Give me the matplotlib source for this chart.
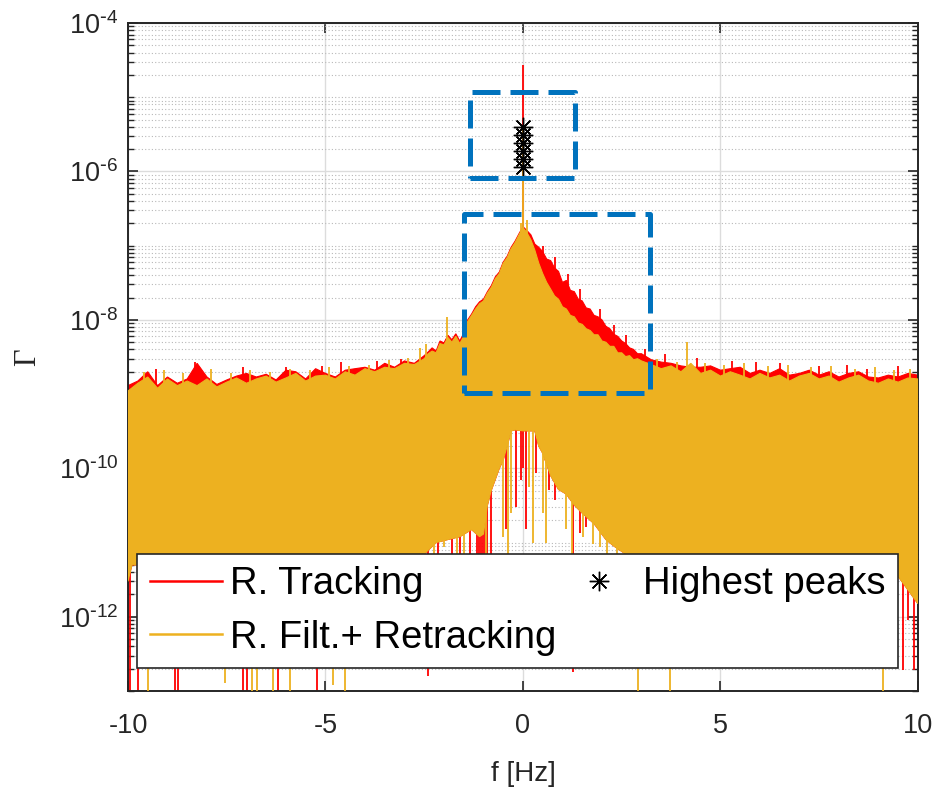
import numpy as np
import matplotlib
matplotlib.use("Agg")
import matplotlib.pyplot as plt
from matplotlib.lines import Line2D
from matplotlib.patches import Rectangle
from matplotlib.ticker import FixedLocator, LogLocator, NullFormatter, NullLocator, FuncFormatter

plt.rcParams['font.family'] = ['Liberation Sans', 'DejaVu Sans']
plt.rcParams['axes.unicode_minus'] = False

# spectrum upper envelope
f_left = [-10.0, -9.75, -9.5, -9.25, -9.0, -8.75, -8.5, -8.25, -8.0, -7.75,
          -7.5, -7.25, -7.0, -6.75, -6.5, -6.25, -6.0, -5.75, -5.5, -5.25,
          -5.0, -4.75, -4.5, -4.25, -4.0, -3.75, -3.5, -3.25, -3.0, -2.75]
f_mid = [-2.5, -2.4, -2.3, -2.2, -2.1, -2.0, -1.9, -1.8, -1.7, -1.6,
         -1.5, -1.4, -1.3, -1.2, -1.1, -1.0, -0.9, -0.8, -0.7, -0.6,
         -0.5, -0.4, -0.3, -0.2, -0.1, 0.0, 0.1, 0.2, 0.3, 0.4,
         0.5, 0.6, 0.7, 0.8, 0.9, 1.0, 1.1, 1.2, 1.3, 1.4,
         1.5, 1.6, 1.7, 1.8, 1.9, 2.0, 2.1, 2.2, 2.3, 2.4,
         2.5, 2.6, 2.7, 2.8, 2.9]
f_right = [3.0, 3.25, 3.5, 3.75, 4.0, 4.25, 4.5, 4.75, 5.0, 5.25,
           5.5, 5.75, 6.0, 6.25, 6.5, 6.75, 7.0, 7.25, 7.5, 7.75,
           8.0, 8.25, 8.5, 8.75, 9.0, 9.25, 9.5, 9.75, 10.0]

flt_hi = [1.1e-9, 1.4e-9, 1.7e-9, 1.2e-9, 1.6e-9, 1.3e-9, 1.5e-9, 1.3e-9, 1.6e-9, 1.25e-9,
          1.45e-9, 1.65e-9, 1.4e-9, 1.6e-9, 1.75e-9, 1.45e-9, 1.65e-9, 1.9e-9, 1.5e-9, 1.75e-9,
          1.8e-9, 1.6e-9, 2.0e-9, 1.8e-9, 2.2e-9, 2.0e-9, 2.3e-9, 2.2e-9, 2.6e-9, 2.5e-9,
          3.0e-9, 3.5e-9, 3.8e-9, 3.6e-9, 4.8e-9, 4.6e-9, 5.8e-9, 5.0e-9, 6.0e-9, 4.8e-9,
          6.0e-9, 9.5e-9, 1.15e-8, 1.4e-8, 1.65e-8, 1.8e-8, 2.3e-8, 2.75e-8, 3.6e-8, 4.2e-8,
          5.8e-8, 6.9e-8, 9.1e-8, 1.1e-7, 1.4e-7, 1.75e-7, 1.5e-7, 1.2e-7, 8.7e-8, 5.8e-8,
          4.2e-8, 3.2e-8, 2.6e-8, 2.1e-8, 1.9e-8, 1.5e-8, 1.4e-8, 1.15e-8, 1.1e-8, 9.1e-9,
          8.7e-9, 7.6e-9, 7.2e-9, 6.3e-9, 6.3e-9, 5.2e-9, 5.0e-9, 4.4e-9, 4.4e-9, 3.6e-9,
          3.6e-9, 3.2e-9, 3.3e-9, 2.9e-9, 3.0e-9,
          2.8e-9, 2.5e-9, 2.2e-9, 2.4e-9, 2.0e-9, 2.6e-9, 1.9e-9, 2.1e-9, 1.75e-9, 2.0e-9,
          1.8e-9, 1.6e-9, 1.9e-9, 1.65e-9, 1.8e-9, 1.5e-9, 1.75e-9, 1.9e-9, 1.6e-9, 1.75e-9,
          1.45e-9, 1.65e-9, 1.8e-9, 1.5e-9, 1.4e-9, 1.6e-9, 1.45e-9, 1.65e-9, 1.6e-9]

trk_hi = [1.3e-9, 1.5e-9, 2.0e-9, 1.3e-9, 1.7e-9, 1.4e-9, 1.6e-9, 2.6e-9, 1.7e-9, 1.35e-9,
          1.55e-9, 1.75e-9, 1.9e-9, 1.7e-9, 1.85e-9, 1.55e-9, 2.1e-9, 2.0e-9, 1.6e-9, 2.2e-9,
          1.9e-9, 1.7e-9, 2.1e-9, 2.2e-9, 2.3e-9, 2.1e-9, 2.6e-9, 2.3e-9, 2.8e-9, 2.6e-9,
          3.3e-9, 3.7e-9, 4.2e-9, 3.8e-9, 5.2e-9, 4.9e-9, 6.2e-9, 5.4e-9, 6.5e-9, 5.2e-9,
          6.6e-9, 1.0e-8, 1.2e-8, 1.5e-8, 1.75e-8, 1.9e-8, 2.4e-8, 2.9e-8, 3.8e-8, 4.4e-8,
          6.0e-8, 7.2e-8, 9.5e-8, 1.15e-7, 1.45e-7, 1.8e-7, 1.6e-7, 1.4e-7, 1.05e-7, 9.5e-8,
          8.3e-8, 6.6e-8, 6.3e-8, 5.0e-8, 4.5e-8, 3.2e-8, 3.4e-8, 2.5e-8, 2.4e-8, 1.9e-8,
          1.8e-8, 1.45e-8, 1.4e-8, 1.15e-8, 1.1e-8, 1.0e-8, 8.2e-9, 7.6e-9, 6.4e-9, 6.0e-9,
          5.2e-9, 4.8e-9, 4.2e-9, 4.0e-9, 3.5e-9,
          3.5e-9, 2.9e-9, 2.7e-9, 2.6e-9, 2.4e-9, 2.3e-9, 2.3e-9, 2.4e-9, 2.1e-9, 2.2e-9,
          2.3e-9, 1.9e-9, 2.1e-9, 1.9e-9, 2.2e-9, 1.8e-9, 1.9e-9, 2.1e-9, 1.8e-9, 2.0e-9,
          1.7e-9, 1.9e-9, 2.0e-9, 1.7e-9, 1.65e-9, 1.8e-9, 1.7e-9, 1.9e-9, 1.8e-9]

# single bins sticking out above the band
flt_up_f = [-9.6, -9.1, -8.6, -7.9, -7.4, -6.9, -6.4, -5.9, -5.4, -4.9,
            -4.4, -3.9, -3.4, -2.9, -2.6, -2.45, -1.92, -0.05, 0.1, 3.4,
            3.9, 4.15, 4.6, 5.1, 5.6, 6.2, 6.7, 7.3, 7.8, 8.4,
            8.9, 9.4, 9.8]
flt_up_hi = [2.0e-9, 2.1e-9, 1.9e-9, 2.2e-9, 1.9e-9, 2.1e-9, 2.0e-9, 2.2e-9, 2.1e-9, 2.3e-9,
             2.4e-9, 2.5e-9, 2.9e-9, 3.1e-9, 4.2e-9, 4.7e-9, 1.1e-8, 2.0e-7, 2.2e-7, 3.0e-9,
             2.7e-9, 5.0e-9, 2.6e-9, 2.5e-9, 2.6e-9, 2.4e-9, 2.5e-9, 2.3e-9, 2.4e-9, 2.2e-9,
             2.3e-9, 2.1e-9, 2.2e-9]
trk_up_f = [-9.3, -8.3, -7.1, -6.0, -5.1, -4.6, -3.7, -3.1, 0.5, 0.8,
            1.15, 1.45, 1.95, 2.3, 2.6, 3.1, 3.6, 4.4, 5.3, 5.9,
            6.5, 7.5, 8.2, 8.7, 9.5]
trk_up_hi = [2.2e-9, 2.7e-9, 2.3e-9, 2.3e-9, 2.4e-9, 2.7e-9, 2.8e-9, 3.0e-9, 1.0e-7, 7.0e-8,
             4.2e-8, 2.6e-8, 1.4e-8, 8.5e-9, 6.2e-9, 4.0e-9, 3.5e-9, 3.1e-9, 2.8e-9, 2.7e-9,
             2.6e-9, 2.4e-9, 2.5e-9, 2.2e-9, 2.4e-9]

# lower edge of the solid band
f_floor = [-10.0, -9.9, -9.0, -8.0, -7.0, -6.0, -5.0, -4.0, -3.0, -2.5,
           -2.2, -1.9, -1.6, -1.3, -1.1, -1.0, -0.9, -0.8, -0.6, -0.5,
           -0.4, -0.3, -0.2, 0.0, 0.3, 0.4, 0.5, 0.7, 0.9, 1.1,
           1.3, 1.5, 1.8, 2.1, 2.3, 2.6, 3.0, 4.0, 5.0, 6.0,
           7.0, 8.0, 9.0, 9.5, 9.7, 10.0]
band_lo = [3e-12, 5e-12, 5e-12, 5e-12, 5e-12, 5e-12, 5e-12, 5e-12, 5e-12, 7e-12,
           1.0e-11, 1.1e-11, 1.2e-11, 1.5e-11, 1.2e-11, 1.3e-11, 3.2e-11, 5.1e-11, 1.0e-10, 1.3e-10,
           2.0e-10, 3.2e-10, 3.3e-10, 3.2e-10, 3.2e-10, 2.0e-10, 1.6e-10, 8e-11, 5.2e-11, 4.5e-11,
           3.2e-11, 2.5e-11, 1.8e-11, 1.1e-11, 9e-12, 7e-12, 5e-12, 5e-12, 5e-12, 5e-12,
           5e-12, 5e-12, 5e-12, 3.5e-12, 2.5e-12, 1.5e-12]

# single bins dipping below the band
trk_dip_f = [-9.95, -9.75, -8.81, -8.73, -7.08, -6.99, -6.20, -5.22, -3.54, -2.48,
             -2.4, -2.14, -1.8, -1.59, -1.34, -1.17, -1.12, -1.07, -1.02, -0.97,
             -0.92, -0.8, -0.42, -0.17, -0.05, 0.08, 0.33, 0.67, 0.8, 1.27,
             1.44, 1.6, 2.74, 3.46, 3.84, 9.62, 9.75, 9.9]
trk_dip_lo = [9e-14, 9e-14, 9e-14, 9e-14, 9e-14, 9e-14, 9e-14, 9e-14, 5e-12, 8.7e-12,
              1.6e-13, 7e-12, 7e-12, 7e-12, 7e-12, 7e-12, 7e-12, 7e-12, 7e-12, 7e-12,
              7e-12, 7e-12, 1.5e-11, 3e-11, 6.9e-11, 1.5e-11, 8.7e-11, 5.1e-11, 3.7e-11, 1.8e-13,
              1.35e-11, 1.6e-11, 8.7e-12, 9e-12, 7e-12, 1.9e-13, 9e-13, 1.9e-13]
flt_dip_f = [-9.49, -7.54, -6.86, -6.73, -6.33, -5.9, -4.81, -4.51, -2.74, -2.26,
             -2.01, -1.67, -1.5, -0.93, -0.5, -0.38, -0.3, 0.16, 0.25, 0.5,
             0.59, 1.1, 1.23, 1.53, 1.78, 1.95, 2.12, 2.37, 2.91, 3.38,
             3.72, 9.11]
flt_dip_lo = [9e-14, 1.3e-13, 9e-14, 9e-14, 9e-14, 9e-14, 1.2e-13, 9e-14, 7e-12, 7e-12,
              8.7e-12, 7e-12, 7e-12, 7e-12, 1.2e-11, 7e-12, 2.5e-11, 5.6e-11, 1.0e-11, 2.5e-11,
              1.0e-11, 1.5e-11, 7e-12, 1.2e-11, 9.5e-12, 8.7e-12, 7e-12, 7e-12, 9e-14, 7e-12,
              9e-14, 9e-14]

# carrier line at 0 Hz
trk_peak = 2.7e-5
flt_peak = 4.0e-6
peak_f = [0.0, 0.0, 0.0, 0.0, 0.0, 0.0]
peak_val = [3.98e-6, 3.1e-6, 2.4e-6, 1.86e-6, 1.48e-6, 1.15e-6]

# highlighted regions (f0, f1, lower, upper)
box_small = (-1.34, 1.32, 8.1e-7, 1.17e-5)
box_big = (-1.49, 3.22, 1.02e-9, 2.7e-7)

RED = '#FF0000'
ORANGE = '#EDB120'
BLUE = '#0072BD'
DARK = '#262626'

f_spec = np.array(f_left + f_mid + f_right)
fl = np.array(f_floor)

fig = plt.figure(figsize=(9.39, 7.88), dpi=100)
ax = fig.add_axes([0.1363, 0.1231, 0.8413, 0.8477])
ax.set_yscale('log')

# tracking (red) goes first, filtered (orange) is drawn over it
ax.fill(np.concatenate([f_spec, fl[::-1]]), np.concatenate([trk_hi, band_lo[::-1]]),
        color=RED, lw=0.8, zorder=2)
ax.vlines(trk_dip_f, trk_dip_lo, 1e-9, color=RED, lw=1.3, zorder=2)
ax.vlines(trk_up_f, 1e-9, trk_up_hi, color=RED, lw=1.3, zorder=2)
ax.vlines(0.0, 1e-10, trk_peak, color=RED, lw=1.3, zorder=2)
ax.fill(np.concatenate([f_spec, fl[::-1]]), np.concatenate([flt_hi, band_lo[::-1]]),
        color=ORANGE, lw=0.8, zorder=3)
ax.vlines(flt_dip_f, flt_dip_lo, 1e-9, color=ORANGE, lw=1.3, zorder=3)
ax.vlines(flt_up_f, 1e-9, flt_up_hi, color=ORANGE, lw=1.3, zorder=3)
ax.vlines(0.0, 1e-7, flt_peak, color=ORANGE, lw=1.3, zorder=3)

ax.plot(peak_f, peak_val, ls='none', marker=(8, 2, 0), ms=14, mew=1.0,
        color='black', zorder=5)

for x0, x1, y0, y1 in (box_small, box_big):
    ax.add_patch(Rectangle((x0, y0), x1 - x0, y1 - y0, fill=False, ec=BLUE,
                           lw=3.6, ls=(0, (5.6, 2.0)), joinstyle='round',
                           capstyle='butt', zorder=6))

ax.set_xlim(-10, 10)
ax.set_ylim(1e-13, 1e-4)
ax.set_xticks([-10, -5, 0, 5, 10])
ax.xaxis.set_minor_locator(NullLocator())
ax.yaxis.set_major_locator(FixedLocator([1e-12, 1e-10, 1e-8, 1e-6, 1e-4]))
ax.yaxis.set_major_formatter(FuncFormatter(
    lambda v, pos: r'$\mathdefault{10^{\text{-}%d}}$' % round(-np.log10(v))))
ax.yaxis.set_minor_locator(LogLocator(base=10, subs=np.arange(1, 10), numticks=100))
ax.yaxis.set_minor_formatter(NullFormatter())

ax.set_axisbelow(True)
ax.grid(which='major', color='#dcdcdc', lw=1.0, ls='-')
ax.grid(which='minor', axis='y', color='#b8b8b8', lw=0.8, ls=(0, (1, 2)))

ax.tick_params(which='both', direction='in', top=True, right=True, colors=DARK,
               labelsize=19.5)
ax.tick_params(which='major', length=7, width=1.2)
ax.tick_params(which='minor', length=4, width=1.0)
ax.tick_params(axis='x', pad=16)
ax.tick_params(axis='y', pad=7)
for s in ax.spines.values():
    s.set_color(DARK)
    s.set_linewidth(1.4)

ax.set_xlabel('f [Hz]', fontsize=20, color=DARK, labelpad=16)
ax.set_ylabel('Γ', fontsize=22, color=DARK, family=['Liberation Serif', 'DejaVu Serif'],
              labelpad=12)

handles = [Line2D([], [], color=RED, lw=1.8),
           Line2D([], [], color=ORANGE, lw=1.8),
           Line2D([], [], ls='none', marker=(8, 2, 0), ms=14, mew=1.0, color='black')]
labels = ['R. Tracking', 'R. Filt.+ Retracking', 'Highest peaks']
leg = ax.legend(handles, labels, ncol=2, loc='lower left', mode='expand',
                bbox_to_anchor=(0.0114, 0.034, 0.9633, 0.1676),
                fontsize=27.5, handlelength=1.9, handletextpad=0.2,
                labelspacing=0.45, borderpad=0.33, borderaxespad=0.0,
                fancybox=False, framealpha=1.0, edgecolor=DARK)
leg.get_frame().set_linewidth(1.2)
leg.set_zorder(10)

fig.savefig('out.png', dpi=100)
